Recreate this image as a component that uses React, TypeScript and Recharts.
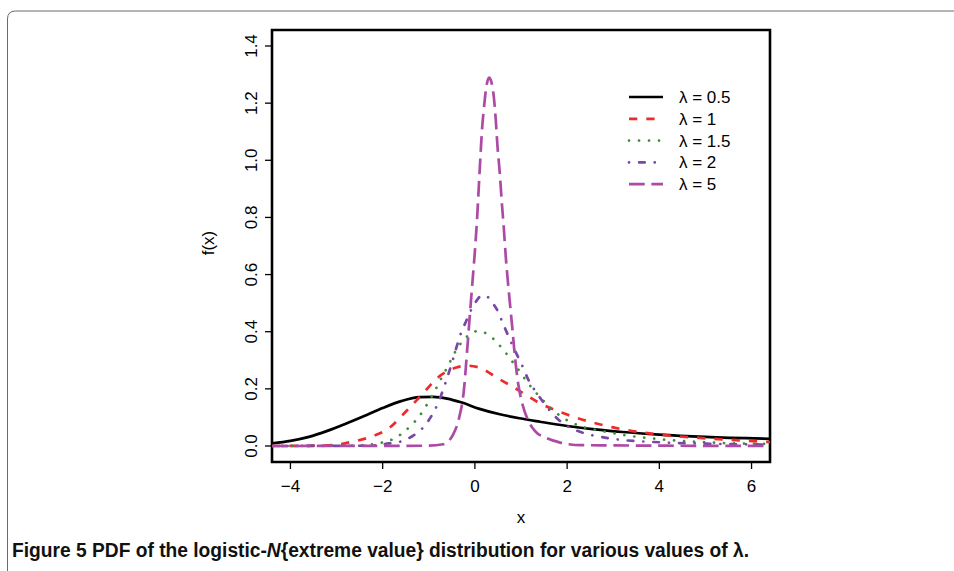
import { useLayoutEffect, useRef, useState } from 'react';
import { LineChart, Line, XAxis, YAxis, ReferenceArea, Legend } from 'recharts';

const xTicks = [-4, -2, 0, 2, 4, 6];
const yTicks = [0, 0.2, 0.4, 0.6, 0.8, 1.0, 1.2, 1.4];

// lambda = 0.5
const xL05 = [-4.4, -4.0, -3.6, -3.2, -2.8, -2.4, -2.0, -1.6, -1.2, -0.9, -0.6, -0.3, 0.1, 0.54, 0.97, 1.41, 2.0, 2.6, 3.2, 4.0, 5.0, 6.4];
const yL05 = [0.009, 0.018, 0.032, 0.053, 0.078, 0.105, 0.133, 0.157, 0.171, 0.172, 0.166, 0.153, 0.13, 0.111, 0.097, 0.085, 0.07, 0.058, 0.049, 0.04, 0.032, 0.025];

// lambda = 1
const xL1 = [-4.4, -3.5, -3.0, -2.75, -2.3, -1.85, -1.5, -1.15, -0.8, -0.4, -0.15, 0.08, 0.52, 0.95, 1.35, 2.0, 3.0, 4.0, 5.0, 6.4];
const yL1 = [0.0, 0.001, 0.004, 0.012, 0.03, 0.064, 0.12, 0.18, 0.24, 0.275, 0.281, 0.275, 0.235, 0.195, 0.155, 0.11, 0.065, 0.04, 0.027, 0.014];

// lambda = 1.5
const xL15 = [-4.4, -2.5, -2.02, -1.79, -1.57, -1.38, -1.21, -1.07, -0.94, -0.82, -0.7, -0.58, -0.47, -0.33, -0.17, 0.06, 0.29, 0.48, 0.65, 0.81, 0.96, 1.1, 1.26, 2.0, 3.0, 4.0, 5.0, 6.4];
const yL15 = [0, 0.002, 0.012, 0.023, 0.045, 0.073, 0.103, 0.137, 0.172, 0.208, 0.246, 0.281, 0.317, 0.354, 0.383, 0.402, 0.39, 0.362, 0.33, 0.296, 0.264, 0.231, 0.199, 0.09, 0.045, 0.024, 0.013, 0.007];

// lambda = 2
const xL2 = [-4.4, -2.3, -1.95, -1.56, -1.35, -1.15, -1.01, -0.8, -0.65, -0.5, -0.4, -0.29, -0.2, -0.07, 0.0, 0.16, 0.25, 0.36, 0.48, 0.58, 0.72, 0.88, 1.05, 1.15, 1.34, 2.0, 3.0, 4.0, 5.0, 6.4];
const yL2 = [0, 0.001, 0.007, 0.018, 0.035, 0.06, 0.088, 0.15, 0.215, 0.29, 0.345, 0.4, 0.433, 0.48, 0.5, 0.527, 0.525, 0.505, 0.477, 0.44, 0.387, 0.33, 0.273, 0.235, 0.186, 0.07, 0.025, 0.013, 0.008, 0.005];

// lambda = 5
const xL5 = [-4.4, -1.0, -0.69, -0.47, -0.34, -0.24, -0.17, -0.11, -0.067, 0.007, 0.05, 0.085, 0.12, 0.16, 0.2, 0.24, 0.31, 0.4, 0.45, 0.49, 0.54, 0.58, 0.63, 0.67, 0.74, 0.81, 0.87, 0.94, 1.03, 1.16, 1.3, 1.55, 1.85, 2.3, 6.4];
const yL5 = [0, 0.001, 0.006, 0.041, 0.1, 0.193, 0.33, 0.457, 0.545, 0.697, 0.802, 0.908, 1.013, 1.119, 1.189, 1.248, 1.289, 1.236, 1.148, 1.049, 0.955, 0.861, 0.756, 0.662, 0.533, 0.416, 0.31, 0.217, 0.147, 0.088, 0.053, 0.028, 0.012, 0.003, 0];

const toPoints = (xs: number[], ys: number[]) => xs.map((x, i) => ({ x, y: ys[i] }));

const series = [
  { name: '0.5', color: '#000000', dash: undefined, cap: 'butt', data: toPoints(xL05, yL05) },
  { name: '1', color: '#ee2b2b', dash: '8.3 9', cap: 'butt', data: toPoints(xL1, yL1) },
  { name: '1.5', color: '#3f8f3a', dash: '0.1 9.9', cap: 'round', data: toPoints(xL15, yL15) },
  { name: '2', color: '#7748a6', dash: '0.1 10 5.6 10', cap: 'round', data: toPoints(xL2, yL2) },
  { name: '5', color: '#ad4aa6', dash: '15.7 6.7', cap: 'butt', data: toPoints(xL5, yL5) },
];

const FONT = '"Liberation Sans", Arial, Helvetica, sans-serif';
const fmtX = (v: number) => (v < 0 ? '\u2212' + Math.abs(v) : String(v));

function XTick({ x, y, payload }: any) {
  return (
    <text x={x} y={y} dy={15} textAnchor="middle" fontSize={17} fontFamily={FONT} fill="#000">
      {fmtX(payload.value)}
    </text>
  );
}

function YTick({ x, y, payload }: any) {
  return (
    <text x={x} y={y} transform={`rotate(-90, ${x}, ${y})`} textAnchor="middle" fontSize={17} fontFamily={FONT} fill="#000">
      {payload.value.toFixed(1)}
    </text>
  );
}

function renderLegend() {
  return (
    <svg width={170} height={120} style={{ display: 'block' }}>
      {series.map((s, i) => {
        const cy = 12 + i * 21.8;
        return (
          <g key={s.name}>
            <line x1={9} x2={43} y1={cy} y2={cy} stroke={s.color} strokeWidth={2.7}
              strokeDasharray={s.dash} strokeLinecap={s.cap as any} />
            <text x={59} y={cy + 6} fontSize={17} fontFamily={FONT} fill="#000">
              {'\u03bb = ' + s.name}
            </text>
          </g>
        );
      })}
    </svg>
  );
}

// caption squeezed to the reference's width (it uses a condensed bold face)
function Caption() {
  const ref = useRef<HTMLDivElement>(null);
  const [scale, setScale] = useState(1);
  useLayoutEffect(() => {
    if (ref.current) setScale(737 / ref.current.scrollWidth);
  }, []);
  return (
    <div
      ref={ref}
      style={{
        position: 'absolute',
        left: 12,
        top: 538,
        fontSize: 20,
        lineHeight: '24px',
        fontWeight: 'bold',
        fontFamily: FONT,
        color: '#111',
        whiteSpace: 'nowrap',
        transform: `scaleX(${scale})`,
        transformOrigin: 'left top',
      }}
    >
      Figure 5 PDF of the logistic-<i>N</i>{'{extreme value} distribution for various values of \u03bb.'}
    </div>
  );
}

export default function App() {
  return (
    <div style={{ position: 'absolute', left: 0, top: 0, width: 954, height: 571, background: '#fff', fontFamily: FONT, overflow: 'hidden' }}>
      <svg width={954} height={571} style={{ position: 'absolute', left: 0, top: 0 }}>
        <path d="M 7.5 600 L 7.5 19 Q 7.5 11 15.5 11 L 960 11" fill="none" stroke="#6b6b6b" strokeWidth={1} />
      </svg>
      <Caption />
      <div style={{ position: 'absolute', left: 0, top: 0 }}>
        <LineChart width={954} height={571} margin={{ top: 30, right: 184, bottom: 0, left: 0 }}>
          <XAxis
            type="number"
            dataKey="x"
            domain={[-4.4, 6.4]}
            ticks={xTicks}
            allowDataOverflow
            height={109}
            tickSize={7}
            tickMargin={8}
            tick={<XTick />}
            axisLine={false}
            tickLine={{ stroke: '#000', strokeWidth: 1.3 }}
            label={{
              content: ({ viewBox }: any) => (
                <text x={viewBox.x + viewBox.width / 2} y={523} textAnchor="middle" fontSize={17} fontFamily={FONT} fill="#000">x</text>
              ),
            }}
          />
          <YAxis
            type="number"
            domain={[-0.056, 1.456]}
            ticks={yTicks}
            allowDataOverflow
            width={272}
            tickSize={7}
            tickMargin={8}
            tick={<YTick />}
            axisLine={false}
            tickLine={{ stroke: '#000', strokeWidth: 1.3 }}
            label={{
              content: ({ viewBox }: any) => {
                const lx = 214;
                const ly = viewBox.y + viewBox.height / 2 - 3;
                return (
                  <text x={lx} y={ly} transform={`rotate(-90, ${lx}, ${ly})`} textAnchor="middle" fontSize={17} fontFamily={FONT} fill="#000">f(x)</text>
                );
              },
            }}
          />
          {series.map((s) => (
            <Line
              key={s.name}
              data={s.data}
              dataKey="y"
              name={s.name}
              type="monotone"
              stroke={s.color}
              strokeWidth={2.7}
              strokeDasharray={s.dash}
              strokeLinecap={s.cap as any}
              dot={false}
              activeDot={false}
              isAnimationActive={false}
            />
          ))}
          <ReferenceArea x1={-4.4} x2={6.4} y1={-0.056} y2={1.456} fill="none" fillOpacity={0} stroke="#000" strokeWidth={2.6} ifOverflow="visible" />
          <Legend
            layout="vertical"
            align="center"
            verticalAlign="middle"
            content={renderLegend}
            wrapperStyle={{ position: 'absolute', left: 620, top: 85, width: 170, height: 120 }}
          />
        </LineChart>
      </div>
    </div>
  );
}
